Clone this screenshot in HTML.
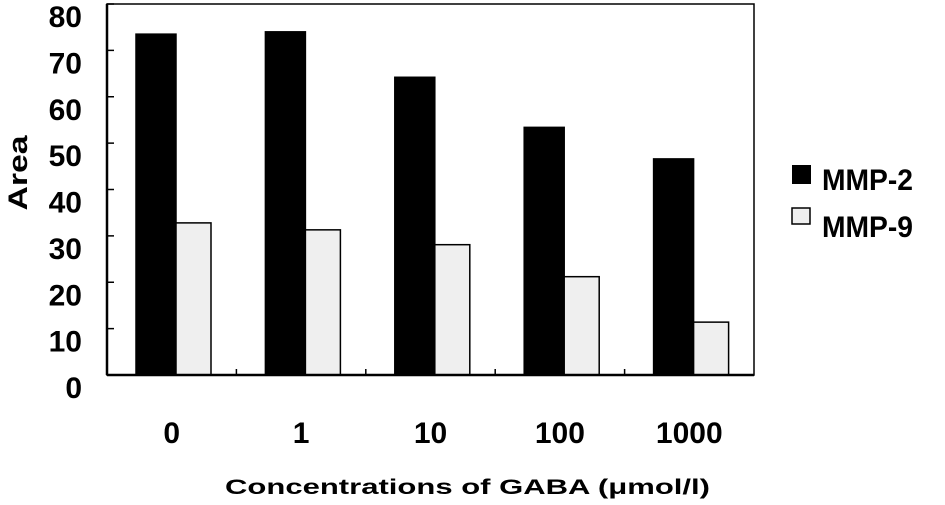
<!DOCTYPE html>
<html><head><meta charset="utf-8"><style>
body{margin:0;background:#fff;}
svg text{font-family:"Liberation Sans",Arial,sans-serif;font-weight:bold;fill:#000;}
</style></head><body>
<svg id="chart" width="945" height="500" xmlns="http://www.w3.org/2000/svg">
<g id="plot"></g>
</svg>
<script>
const categories=["0","1","10","100","1000"];
const mmp2=[73.5,74,64.2,53.4,46.6];
const mmp9=[32.8,31.3,28.1,21.2,11.4];
const yTicks=[0,10,20,30,40,50,60,70,80];

const L=107,R=754,T=4,B=375,yMax=80;
const y=v=>B-(v/yMax)*(B-T);
const gw=(R-L)/categories.length;
const gx=i=>L+i*gw;
const NS="http://www.w3.org/2000/svg";
const svg=document.getElementById('chart');
function mk(tag,attrs,parent){const e=document.createElementNS(NS,tag);for(const k in attrs)e.setAttribute(k,attrs[k]);(parent||svg).appendChild(e);return e;}

categories.forEach((c,i)=>{
  const b=mk('rect',{x:gx(i)+29,y:y(mmp2[i]),width:40,height:B-y(mmp2[i]),fill:'#000',stroke:'#000','stroke-width':1.5});
  
  
  const g=mk('rect',{x:gx(i)+69,y:y(mmp9[i]),width:35,height:B-y(mmp9[i]),fill:'#efefef',stroke:'#000','stroke-width':1.5});
  
  
  const t=mk('text',{x:gx(i)+gw/2,y:443,'text-anchor':'middle','font-size':30});
  t.textContent=c;
  
  
  if(i>0){const tk=mk('line',{x1:gx(i),x2:gx(i),y1:B,y2:B-6,stroke:'#000','stroke-width':1.5});
  
  }
});
yTicks.forEach(v=>{
  const tk=mk('line',{x1:L,x2:L+7,y1:y(v),y2:y(v),stroke:'#000','stroke-width':1.5});
  
  
  const t=mk('text',{x:82,y:y(v)+23,'text-anchor':'end','font-size':30});
  t.textContent=v;
  
  
});
const f=mk('rect',{x:L,y:T,width:R-L,height:B-T,fill:'none',stroke:'#000','stroke-width':1.5});


const xb=mk('line',{x1:L,x2:R,y1:B,y2:B,stroke:'#000','stroke-width':2.5});


const yl=mk('line',{x1:L,x2:L,y1:T,y2:B,stroke:'#000','stroke-width':2.5});


</script>
<svg style="position:absolute;left:0;top:0" width="945" height="500">
<text x="0" y="0" transform="translate(27,173) rotate(-90)" text-anchor="middle" font-size="27" textLength="75" lengthAdjust="spacingAndGlyphs">Area</text>
<text x="225" y="494" font-size="21" textLength="485" lengthAdjust="spacingAndGlyphs">Concentrations of GABA  (μmol/l)</text>
<rect x="792" y="165" width="19" height="19" fill="#000"/>
<text x="822" y="190" font-size="30" textLength="91" lengthAdjust="spacingAndGlyphs">MMP-2</text>
<rect x="792" y="208" width="18" height="16" fill="#efefef" stroke="#000" stroke-width="1.5"/>
<text x="822" y="237" font-size="30" textLength="91" lengthAdjust="spacingAndGlyphs">MMP-9</text>
</svg>
</body></html>
